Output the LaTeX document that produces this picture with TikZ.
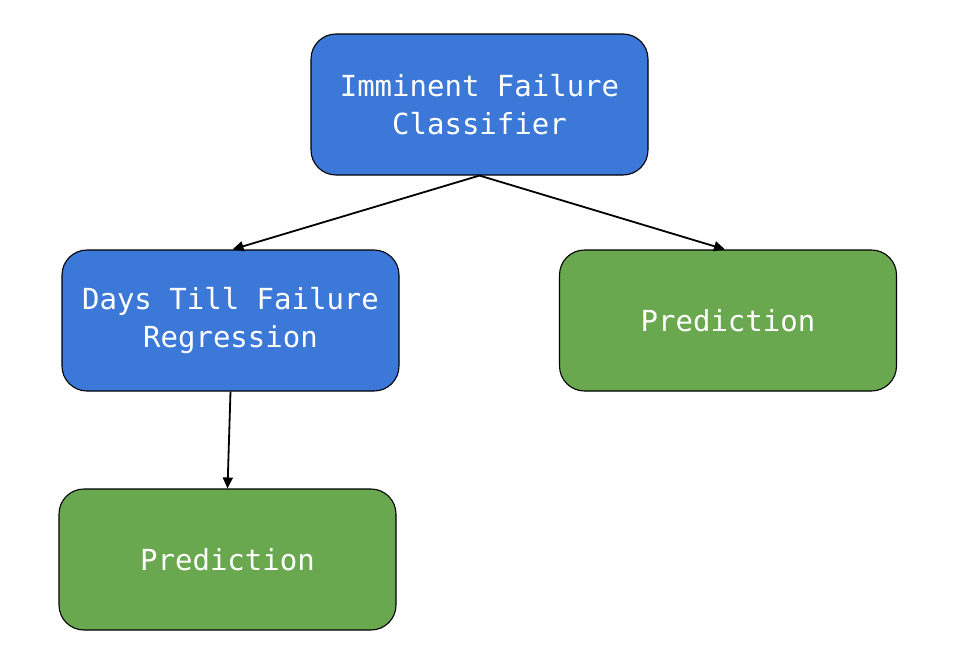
\documentclass[tikz,border=0pt]{standalone}
\usepackage{fontspec}
\setmonofont{DejaVu Sans Mono}
\usetikzlibrary{arrows.meta}
\definecolor{boxblue}{HTML}{3C78D8}
\definecolor{boxgreen}{HTML}{6AA84F}
\tikzset{
  card/.style={draw=black, line width=1.1pt, rounded corners=25pt, minimum width=337pt, minimum height=141pt, inner sep=0pt, align=center, text=white, font=\ttfamily\fontsize{29}{38}\selectfont},
  bluecard/.style={card, fill=boxblue},
  greencard/.style={card, fill=boxgreen},
  link/.style={line width=1.8pt, -{Triangle[length=11pt,width=10pt]}}
}
\begin{document}
\begin{tikzpicture}[x=1pt,y=-1pt]
\useasboundingbox[fill=white] (0,0) rectangle (956,664);
\node[bluecard] (top) at (479.5,104.5) {Imminent Failure\\Classifier};
\node[bluecard] (days) at (230.5,320.5) {Days Till Failure\\Regression};
\node[greencard] (predr) at (728,320.5) {Prediction};
\node[greencard] (predb) at (227.5,559.5) {Prediction};
\draw[link] (top.south) -- ([xshift=2pt]days.north);
\draw[link] (top.south) -- ([xshift=-3pt]predr.north);
\draw[link] (days.south) -- (predb.north);
\end{tikzpicture}
\end{document}
